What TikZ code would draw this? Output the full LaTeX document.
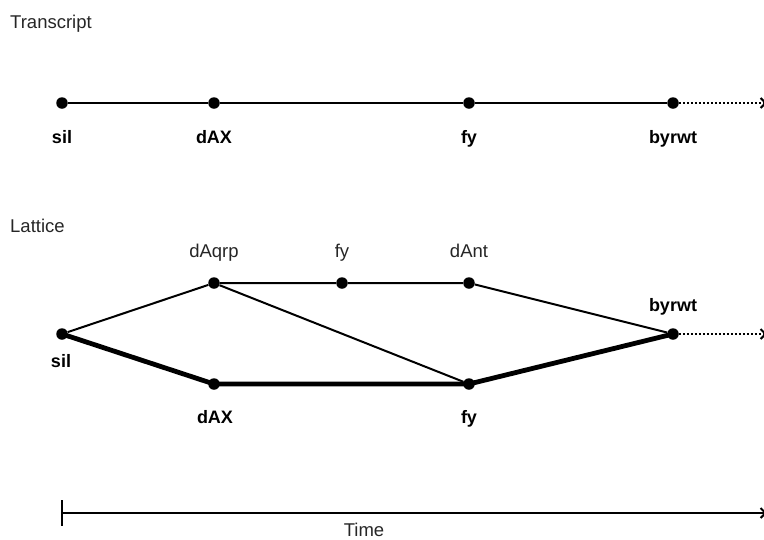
\documentclass[tikz,border=0pt]{standalone}
\usepackage{fontspec}
\setmainfont{Liberation Sans}
\usetikzlibrary{arrows.meta}
\begin{document}
\begin{tikzpicture}[x=1pt,y=-1pt,
  dot/.style={circle,fill=black,inner sep=0pt,minimum size=11.5pt},
  blbl/.style={font=\fontsize{18}{21}\selectfont\bfseries,inner sep=0pt,anchor=base},
  plbl/.style={font=\fontsize{18.5}{21}\selectfont,inner sep=0pt,anchor=base,text=black!85},
  ttl/.style={font=\fontsize{18.5}{21}\selectfont,inner sep=0pt,anchor=base west,text=black!85},
  edgeline/.style={line width=2pt},
  heavy/.style={line width=4.8pt},
  dots/.style={line width=2.2pt,dash pattern=on 2pt off 2pt,-{Straight Barb[length=5pt,width=10pt,line width=2pt]}},
]
\useasboundingbox (0,0) rectangle (764,539);

% Transcript
\node[ttl] (ttitle) at (10,28) {Transcript};
\node[dot] (t1) at (62,103) {};
\node[dot] (t2) at (214,103) {};
\node[dot] (t3) at (469,103) {};
\node[dot] (t4) at (673,103) {};
\coordinate (tend) at (767,103);
\draw[edgeline] (t1) -- (t2) -- (t3) -- (t4);
\draw[dots] (t4) -- (tend);
\node[blbl] (tl1) at (62,143) {sil};
\node[blbl] (tl2) at (214,143) {dAX};
\node[blbl] (tl3) at (469,143) {fy};
\node[blbl] (tl4) at (673,143) {byrwt};

% Lattice
\node[ttl] (ltitle) at (10,232) {Lattice};
\node[dot] (sil) at (62,334) {};
\node[dot] (dAqrp) at (214,283) {};
\node[dot] (fyu) at (342,283) {};
\node[dot] (dAnt) at (469,283) {};
\node[dot] (byrwt) at (673,334) {};
\node[dot] (dAX) at (214,384) {};
\node[dot] (fyl) at (469,384) {};
\coordinate (lend) at (767,334);

\draw[edgeline] (sil) -- (dAqrp);
\draw[edgeline] (dAqrp) -- (fyu) -- (dAnt) -- (byrwt);
\draw[edgeline] (dAqrp) -- (fyl);
\draw[heavy] (sil.center) -- (dAX.center) -- (fyl.center) -- (byrwt.center);
\draw[dots] (byrwt) -- (lend);

\node[blbl] (lsil) at (61,367) {sil};
\node[plbl] (ldAqrp) at (214,257) {dAqrp};
\node[plbl] (lfyu) at (342,257) {fy};
\node[plbl] (ldAnt) at (469,257) {dAnt};
\node[blbl] (lbyrwt) at (673,311) {byrwt};
\node[blbl] (ldAX) at (215,423) {dAX};
\node[blbl] (lfyl) at (469,423) {fy};

% Time axis
\coordinate (tickt) at (62,500);
\coordinate (tickb) at (62,526);
\coordinate (ax0) at (62,513);
\coordinate (ax1) at (767,513);
\draw[line width=2.4pt] (tickt) -- (tickb);
\draw[line width=2pt,-{Straight Barb[length=5pt,width=10pt,line width=2pt]}] (ax0) -- (ax1);
\node[plbl] (time) at (364,536) {Time};
\end{tikzpicture}
\end{document}
